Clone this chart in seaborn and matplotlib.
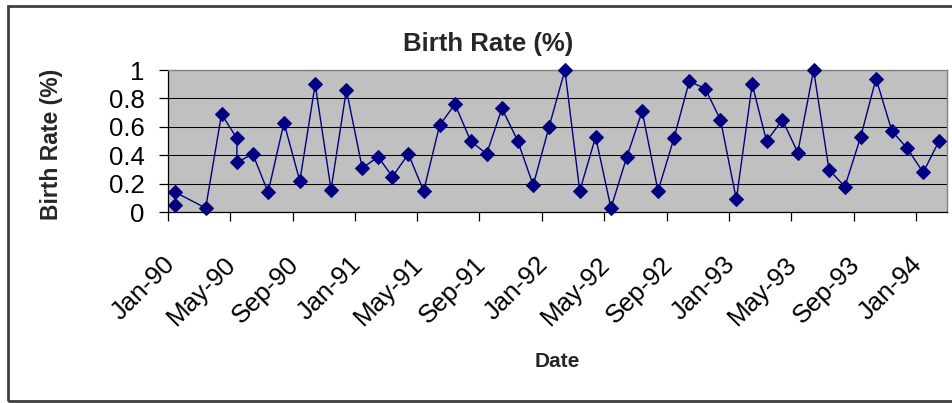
import matplotlib
matplotlib.use("Agg")
import matplotlib.dates as mdates
import matplotlib.pyplot as plt
from matplotlib.patches import Rectangle
from matplotlib.transforms import ScaledTranslation
import pandas as pd
import seaborn as sns

dates = [
    "1990-01-15", "1990-01-15", "1990-03-15", "1990-04-15", "1990-05-15",
    "1990-05-15", "1990-06-15", "1990-07-15", "1990-08-15", "1990-09-15",
    "1990-10-15", "1990-11-15", "1990-12-15",
    "1991-01-15", "1991-02-15", "1991-03-15", "1991-04-15", "1991-05-15",
    "1991-06-15", "1991-07-15", "1991-08-15", "1991-09-15", "1991-10-15",
    "1991-11-15", "1991-12-15",
    "1992-01-15", "1992-02-15", "1992-03-15", "1992-04-15", "1992-05-15",
    "1992-06-15", "1992-07-15", "1992-08-15", "1992-09-15", "1992-10-15",
    "1992-11-15", "1992-12-15",
    "1993-01-15", "1993-02-15", "1993-03-15", "1993-04-15", "1993-05-15",
    "1993-06-15", "1993-07-15", "1993-08-15", "1993-09-15", "1993-10-15",
    "1993-11-15", "1993-12-15",
    "1994-01-15", "1994-02-15",
]
birth_rate = [
    0.05, 0.14, 0.03, 0.69, 0.52,
    0.35, 0.41, 0.14, 0.63, 0.22,
    0.90, 0.16, 0.86,
    0.31, 0.39, 0.25, 0.41, 0.15,
    0.61, 0.76, 0.50, 0.41, 0.73,
    0.50, 0.19,
    0.60, 1.00, 0.15, 0.53, 0.03,
    0.39, 0.71, 0.15, 0.52, 0.92,
    0.87, 0.65,
    0.09, 0.90, 0.50, 0.65, 0.42,
    1.00, 0.30, 0.18, 0.53, 0.94,
    0.57, 0.45,
    0.28, 0.50,
]
y_ticks = [0, 0.2, 0.4, 0.6, 0.8, 1]
y_tick_labels = ["0", "0.2", "0.4", "0.6", "0.8", "1"]
x_range = ("1990-01-01", "1994-03-02")

# ── Excel-like styling ────────────────────────────────────────────────
NAVY = "#000080"
PLOT_BG = "#C0C0C0"
FRAME_GRAY = "#808080"

sns.set_theme(style="white")
plt.rcParams["font.family"] = ["Liberation Sans", "DejaVu Sans"]

df = pd.DataFrame({"Date": pd.to_datetime(dates), "Birth Rate (%)": birth_rate})

fig = plt.figure(figsize=(9.52, 4.03), dpi=100)
ax = fig.add_axes([0.1768, 0.4732, 0.8176, 0.3531])
ax.set_facecolor(PLOT_BG)

sns.lineplot(
    data=df,
    x="Date",
    y="Birth Rate (%)",
    estimator=None,
    sort=False,
    color=NAVY,
    linewidth=1.0,
    marker="D",
    markersize=7,
    markerfacecolor=NAVY,
    markeredgecolor=NAVY,
    clip_on=False,
    zorder=3,
    ax=ax,
)

ax.set_xlim(pd.Timestamp(x_range[0]), pd.Timestamp(x_range[1]))
ax.set_ylim(0, 1)
ax.set_yticks(y_ticks)
ax.set_yticklabels(y_tick_labels)
ax.xaxis.set_major_locator(mdates.MonthLocator(bymonth=(1, 5, 9)))
ax.xaxis.set_major_formatter(mdates.DateFormatter("%b-%y"))

ax.yaxis.grid(True, color="black", linewidth=0.75)
ax.xaxis.grid(False)
ax.set_axisbelow(True)

for side in ("top", "right"):
    ax.spines[side].set_color(FRAME_GRAY)
    ax.spines[side].set_linewidth(1.0)
for side in ("left", "bottom"):
    ax.spines[side].set_color("black")
    ax.spines[side].set_linewidth(0.9)

ax.tick_params(axis="both", which="major", bottom=True, left=True, direction="out",
               length=6.5, width=0.9, color="black", labelsize=18.5, labelcolor="black")
ax.tick_params(axis="y", pad=10.5)
ax.tick_params(axis="x", pad=22, labelrotation=45)
shift = ScaledTranslation(-6 / 100, 0, fig.dpi_scale_trans)
for lbl in ax.get_xticklabels():
    lbl.set_ha("right")
    lbl.set_va("top")
    lbl.set_rotation_mode("anchor")
    lbl.set_transform(lbl.get_transform() + shift)

ax.set_title("Birth Rate (%)", fontsize=18.5, fontweight="bold", x=0.411, y=1.1335,
             pad=0, va="baseline")
ax.set_xlabel("Date", fontsize=15, fontweight="bold", va="baseline")
ax.xaxis.set_label_coords(0.5, -1.089)
ax.set_ylabel("Birth Rate (%)", fontsize=16.5, fontweight="bold", va="center", ha="center")
ax.yaxis.set_label_coords(-0.1505, 0.48)

# outer chart-area frame
fig.add_artist(Rectangle((8 / 952, 2 / 403), 1.0, 395 / 403, transform=fig.transFigure,
                         fill=False, edgecolor="#404040", linewidth=2, clip_on=False))

fig.savefig("out.png", dpi=100, facecolor="white")
